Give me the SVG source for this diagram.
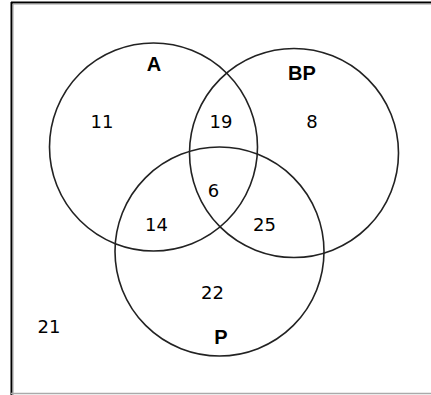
<svg xmlns="http://www.w3.org/2000/svg" width="431" height="395" viewBox="0 0 431 395">
<style>
.set{fill:none;stroke:#222;stroke-width:1.6}
.lbl{font-family:"Liberation Sans",Arial,sans-serif;font-weight:bold;font-size:20px;fill:#000;text-anchor:middle}
.num{font-family:"DejaVu Sans",Verdana,sans-serif;font-size:18px;fill:#000;text-anchor:middle}
</style>
<rect x="0" y="0" width="431" height="395" fill="#fff"/>
<g id="frame">
<line x1="11.5" y1="2" x2="11.5" y2="395" stroke="#000" stroke-width="2"/>
<line x1="13" y1="4" x2="13" y2="395" stroke="#999" stroke-width="1"/>
<line x1="11" y1="2.5" x2="431" y2="2.5" stroke="#000" stroke-width="2"/>
<line x1="13" y1="4" x2="431" y2="4" stroke="#999" stroke-width="1"/>
<line x1="11" y1="393.5" x2="431" y2="393.5" stroke="#aaa" stroke-width="1.5"/>
</g>
<g id="setA">
<circle class="set" cx="153.5" cy="147" r="104"/>
<text class="lbl" x="154" y="71">A</text>
</g>
<g id="setBP">
<circle class="set" cx="294" cy="153" r="104.5"/>
<text class="lbl" x="302" y="80">BP</text>
</g>
<g id="setP">
<circle class="set" cx="219.5" cy="251.5" r="104.5"/>
<text class="lbl" x="221" y="344">P</text>
</g>
<g id="counts">
<text class="num" x="102" y="128">11</text>
<text class="num" x="221" y="128">19</text>
<text class="num" x="312" y="128">8</text>
<text class="num" x="213.5" y="197">6</text>
<text class="num" x="156.5" y="231">14</text>
<text class="num" x="264.5" y="231">25</text>
<text class="num" x="212.5" y="299">22</text>
<text class="num" x="49" y="333">21</text>
</g>
<g id="connectors"></g>
</svg>
